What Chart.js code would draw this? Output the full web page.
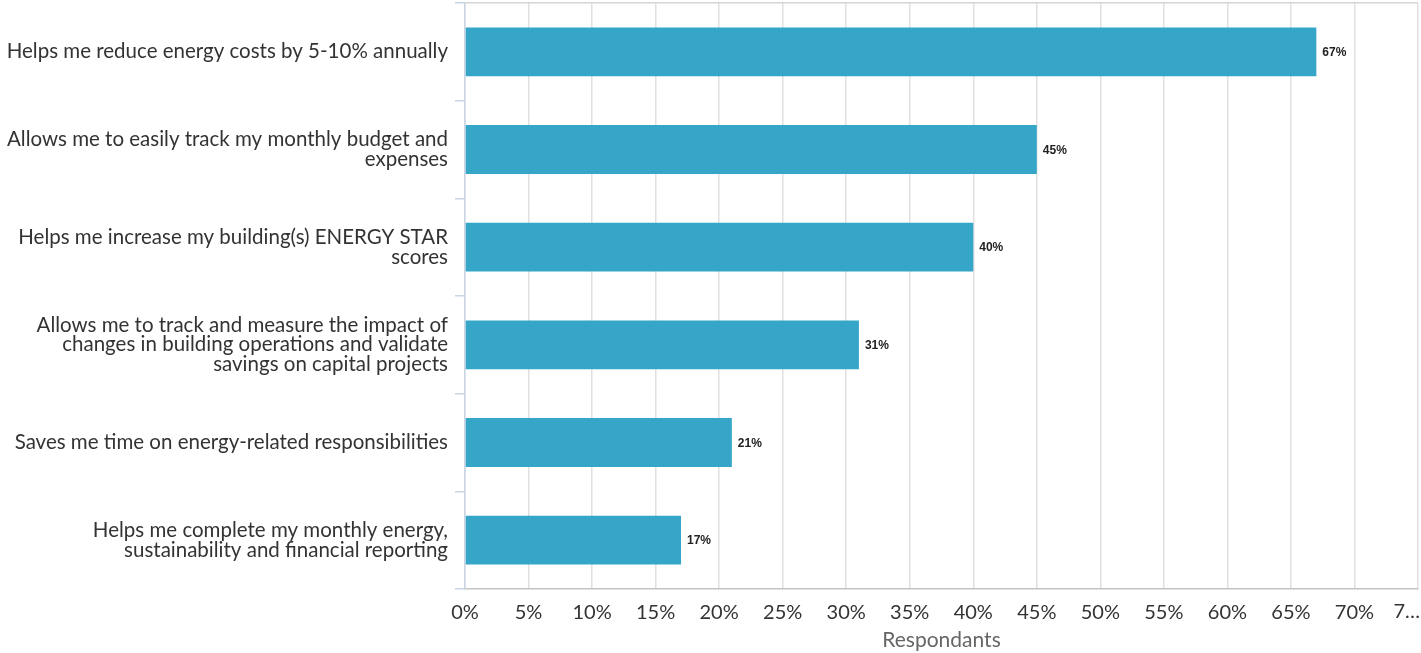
<!DOCTYPE html>
<html>
<head>
<meta charset="utf-8">
<script src="https://cdn.jsdelivr.net/npm/chart.js@4/dist/chart.umd.min.js"></script>
<style>
  html, body { margin: 0; padding: 0; background: #fff; }
  #wrap { width: 1421px; height: 653px; }
</style>
</head>
<body>
<div id="wrap"><canvas id="benefits"></canvas></div>
<script>
const categories = [
  ['Helps me reduce energy costs by 5-10% annually'],
  ['Allows me to easily track my monthly budget and', 'expenses'],
  ['Helps me increase my building(s) ENERGY STAR', 'scores'],
  ['Allows me to track and measure the impact of', 'changes in building operations and validate', 'savings on capital projects'],
  ['Saves me time on energy-related responsibilities'],
  ['Helps me complete my monthly energy,', 'sustainability and financial reporting']
];
const respondents = [67, 45, 40, 31, 21, 17];
const axisMax = 75;
const axisStep = 5;

// value labels at the end of each bar
const barValueLabels = {
  id: 'barValueLabels',
  afterDatasetsDraw(chart) {
    const ctx = chart.ctx;
    const meta = chart.getDatasetMeta(0);
    ctx.save();
    ctx.font = 'bold 12px "Liberation Sans", Arial, sans-serif';
    ctx.fillStyle = '#222';
    ctx.textAlign = 'left';
    ctx.textBaseline = 'middle';
    meta.data.forEach((bar, i) => {
      ctx.fillText(respondents[i] + '%', bar.x + 6, bar.y + 1);
    });
    ctx.restore();
  }
};

// the last tick is cut short and sits inside the edge
const lastTick = {
  id: 'lastTick',
  afterDraw(chart) {
    const x = chart.scales.x;
    const ctx = chart.ctx;
    ctx.save();
    ctx.font = '20px Lato, sans-serif';
    ctx.fillStyle = '#333';
    ctx.textAlign = 'right';
    ctx.textBaseline = 'middle';
    ctx.fillText('7…', x.getPixelForValue(axisMax) + 2, 612);
    ctx.restore();
  }
};

new Chart(document.getElementById('benefits'), {
  type: 'bar',
  data: {
    labels: categories,
    datasets: [{
      data: respondents,
      backgroundColor: '#35a5c8',
      borderWidth: 0,
      barPercentage: 0.5,
      categoryPercentage: 1
    }]
  },
  options: {
    indexAxis: 'y',
    responsive: true,
    maintainAspectRatio: false,
    animation: false,
    layout: { padding: { top: 3, right: 3, left: 0, bottom: 0 } },
    plugins: {
      legend: { display: false },
      tooltip: { enabled: false }
    },
    scales: {
      x: {
        min: 0,
        max: axisMax,
        afterFit(scale) {
          scale.height = 64;
          scale.paddingLeft = 0;
          scale.paddingRight = 0;
        },
        grid: { color: '#e0e0e0', lineWidth: 1.5, drawTicks: false },
        border: { color: '#c4c4c4', width: 1.5 },
        ticks: {
          stepSize: axisStep,
          maxRotation: 0,
          autoSkip: false,
          padding: 12,
          color: '#333',
          font: { family: 'Lato, sans-serif', size: 20 },
          callback: v => v === axisMax ? '' : v + '%'
        },
        title: {
          display: true,
          text: 'Respondants',
          color: '#666',
          padding: { top: 0, bottom: 0 },
          font: { family: 'Lato, sans-serif', size: 21 }
        }
      },
      y: {
        afterFit(scale) {
          scale.width = 465;
          scale.paddingTop = 0;
          scale.paddingBottom = 0;
        },
        grid: {
          offset: true,
          tickLength: 10,
          color: ctx => ctx.index === 0 ? '#d6d6d6' : 'transparent',
          tickColor: '#c9d5e3',
          lineWidth: 1.5
        },
        border: { color: '#c9d5e3', width: 1.5 },
        ticks: {
          padding: 7,
          color: '#333',
          font: { family: 'Lato, sans-serif', size: 20.5, lineHeight: 0.95 }
        }
      }
    }
  },
  plugins: [barValueLabels, lastTick]
});
</script>
</body>
</html>
